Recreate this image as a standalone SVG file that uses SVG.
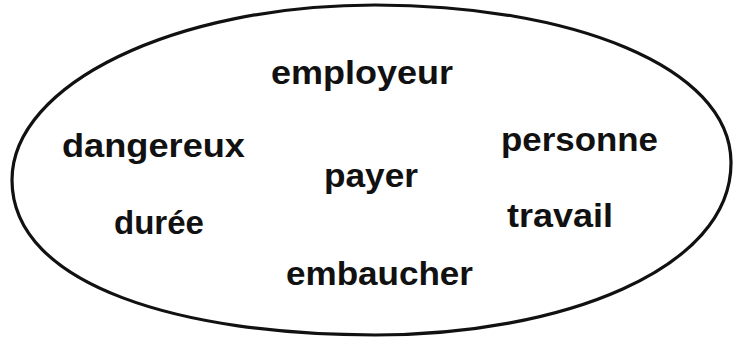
<svg xmlns="http://www.w3.org/2000/svg" width="734" height="343" viewBox="0 0 734 343">
<style>
.w{font-family:"Liberation Sans",Arial,sans-serif;font-weight:bold;font-size:34px;fill:#111;}
.b{fill:none;stroke:#111;stroke-width:3.2;}
</style>
<rect width="734" height="343" fill="#fff"/>
<g id="boundary">
<path class="b" d="M12,180 C12,84 175,5 375,5 C570,5 730,66 731,162 C732,270 560,335 375,335 C185,335 12,287 12,180 Z"/>
</g>
<g id="employeur"><text class="w" x="271" y="84" textLength="182" lengthAdjust="spacingAndGlyphs">employeur</text></g>
<g id="dangereux"><text class="w" x="62" y="157" textLength="183" lengthAdjust="spacingAndGlyphs">dangereux</text></g>
<g id="personne"><text class="w" x="501" y="151" textLength="157" lengthAdjust="spacingAndGlyphs">personne</text></g>
<g id="payer"><text class="w" x="324" y="187" textLength="94" lengthAdjust="spacingAndGlyphs">payer</text></g>
<g id="duree"><text class="w" x="114" y="234" textLength="90" lengthAdjust="spacingAndGlyphs">durée</text></g>
<g id="travail"><text class="w" x="507" y="227" textLength="106" lengthAdjust="spacingAndGlyphs">travail</text></g>
<g id="embaucher"><text class="w" x="286" y="285" textLength="187" lengthAdjust="spacingAndGlyphs">embaucher</text></g>
</svg>
